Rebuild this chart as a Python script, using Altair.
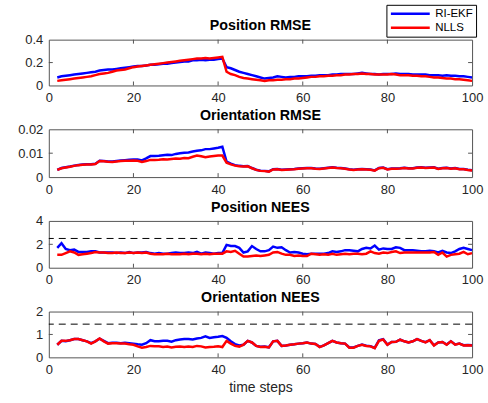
import altair as alt
import pandas as pd

steps = list(range(2, 101))

pos_rmse_ekf = [
    0.07, 0.08, 0.085, 0.09, 0.095, 0.10, 0.105, 0.11, 0.115, 0.12,
    0.13, 0.135, 0.14, 0.14, 0.145, 0.15, 0.155, 0.16, 0.165, 0.17,
    0.17, 0.175, 0.18, 0.18, 0.185, 0.19, 0.19, 0.195, 0.20, 0.205,
    0.21, 0.21, 0.22, 0.22, 0.225, 0.22, 0.225, 0.225, 0.23, 0.235,
    0.16, 0.15, 0.135, 0.12, 0.11, 0.10, 0.09, 0.08, 0.07, 0.06,
    0.065, 0.07, 0.08, 0.075, 0.07, 0.075, 0.075, 0.08, 0.08, 0.08,
    0.085, 0.085, 0.09, 0.09, 0.09, 0.095, 0.095, 0.10, 0.10, 0.10,
    0.10, 0.105, 0.11, 0.105, 0.10, 0.10, 0.095, 0.10, 0.10, 0.10,
    0.105, 0.10, 0.10, 0.10, 0.095, 0.095, 0.095, 0.095, 0.09, 0.09,
    0.09, 0.085, 0.09, 0.085, 0.085, 0.08, 0.08, 0.075, 0.07,
]
pos_rmse_nlls = [
    0.04, 0.045, 0.05, 0.055, 0.06, 0.065, 0.07, 0.075, 0.08, 0.09,
    0.10, 0.105, 0.11, 0.12, 0.13, 0.135, 0.14, 0.15, 0.16, 0.165,
    0.17, 0.175, 0.18, 0.185, 0.19, 0.195, 0.20, 0.205, 0.21, 0.215,
    0.22, 0.225, 0.23, 0.235, 0.235, 0.24, 0.235, 0.24, 0.245, 0.25,
    0.12, 0.10, 0.09, 0.075, 0.065, 0.06, 0.055, 0.05, 0.045, 0.04,
    0.045, 0.045, 0.05, 0.05, 0.055, 0.055, 0.06, 0.06, 0.065, 0.07,
    0.075, 0.075, 0.08, 0.08, 0.085, 0.085, 0.09, 0.09, 0.095, 0.095,
    0.10, 0.10, 0.105, 0.10, 0.10, 0.095, 0.095, 0.095, 0.095, 0.10,
    0.095, 0.09, 0.09, 0.09, 0.085, 0.085, 0.08, 0.08, 0.075, 0.07,
    0.07, 0.065, 0.06, 0.06, 0.055, 0.055, 0.05, 0.045, 0.04,
]

ori_rmse_ekf = [
    0.0030, 0.0038, 0.0041, 0.0044, 0.0048, 0.0051, 0.0053, 0.0054, 0.0054, 0.0056,
    0.0068, 0.0067, 0.0065, 0.0065, 0.0067, 0.0069, 0.0071, 0.0073, 0.0074, 0.0074,
    0.0070, 0.0078, 0.0088, 0.0088, 0.0089, 0.0091, 0.0093, 0.0092, 0.0097, 0.0100,
    0.0102, 0.0103, 0.0107, 0.0110, 0.0112, 0.0117, 0.0117, 0.0120, 0.0123, 0.0127,
    0.0065, 0.0056, 0.0050, 0.0047, 0.0045, 0.0046, 0.0038, 0.0031, 0.0027, 0.0026,
    0.0024, 0.0033, 0.0034, 0.0031, 0.0032, 0.0033, 0.0034, 0.0036, 0.0037, 0.0038,
    0.0038, 0.0036, 0.0035, 0.0037, 0.0039, 0.0041, 0.0039, 0.0038, 0.0036, 0.0033,
    0.0031, 0.0033, 0.0034, 0.0033, 0.0032, 0.0028, 0.0038, 0.0040, 0.0033, 0.0036,
    0.0036, 0.0037, 0.0039, 0.0037, 0.0037, 0.0040, 0.0041, 0.0039, 0.0040, 0.0041,
    0.0035, 0.0038, 0.0039, 0.0036, 0.0038, 0.0034, 0.0034, 0.0031, 0.0029,
]
ori_rmse_nlls = [
    0.0030, 0.0037, 0.0040, 0.0043, 0.0047, 0.0050, 0.0052, 0.0053, 0.0053, 0.0055,
    0.0067, 0.0066, 0.0064, 0.0063, 0.0065, 0.0067, 0.0068, 0.0068, 0.0069, 0.0068,
    0.0063, 0.0067, 0.0072, 0.0072, 0.0073, 0.0075, 0.0074, 0.0076, 0.0078, 0.0077,
    0.0080, 0.0079, 0.0085, 0.0090, 0.0087, 0.0083, 0.0086, 0.0088, 0.0090, 0.0090,
    0.0060, 0.0053, 0.0048, 0.0045, 0.0044, 0.0045, 0.0037, 0.0030, 0.0026, 0.0025,
    0.0023, 0.0032, 0.0033, 0.0030, 0.0031, 0.0032, 0.0033, 0.0035, 0.0036, 0.0037,
    0.0037, 0.0035, 0.0034, 0.0036, 0.0038, 0.0040, 0.0038, 0.0037, 0.0035, 0.0032,
    0.0030, 0.0032, 0.0033, 0.0032, 0.0031, 0.0027, 0.0037, 0.0039, 0.0032, 0.0035,
    0.0035, 0.0036, 0.0038, 0.0036, 0.0036, 0.0039, 0.0040, 0.0038, 0.0039, 0.0040,
    0.0034, 0.0037, 0.0038, 0.0035, 0.0037, 0.0033, 0.0033, 0.0030, 0.0028,
]

pos_nees_ekf = [
    1.7, 2.1, 1.6, 1.5, 1.55, 1.35, 1.35, 1.35, 1.4, 1.4,
    1.3, 1.3, 1.3, 1.3, 1.25, 1.3, 1.25, 1.35, 1.25, 1.3,
    1.3, 1.35, 1.25, 1.2, 1.25, 1.2, 1.2, 1.25, 1.3, 1.25,
    1.25, 1.3, 1.25, 1.35, 1.2, 1.3, 1.25, 1.2, 1.25, 1.25,
    1.95, 1.85, 1.85, 1.7, 1.3, 1.4, 1.85, 1.6, 1.4, 1.4,
    1.5, 1.8, 1.7, 1.75, 1.5, 1.3, 1.35, 1.3, 1.2, 1.15,
    1.2, 1.2, 1.2, 1.2, 1.25, 1.4, 1.35, 1.4, 1.5, 1.5,
    1.45, 1.4, 1.6, 1.7, 1.65, 1.9, 1.55, 1.65, 1.6, 1.6,
    1.75, 1.7, 1.5, 1.5, 1.5, 1.45, 1.4, 1.4, 1.45, 1.4,
    1.3, 1.45, 1.3, 1.25, 1.4, 1.6, 1.7, 1.6, 1.5,
]
pos_nees_nlls = [
    1.1, 1.1, 1.25, 1.4, 1.3, 1.1, 1.15, 1.2, 1.25, 1.35,
    1.3, 1.3, 1.25, 1.25, 1.3, 1.25, 1.25, 1.3, 1.25, 1.3,
    1.25, 1.3, 1.2, 1.15, 1.15, 1.15, 1.2, 1.15, 1.15, 1.15,
    1.2, 1.15, 1.2, 1.2, 1.15, 1.2, 1.15, 1.2, 1.2, 1.2,
    1.4, 1.35, 1.45, 1.2, 0.95, 0.95, 1.0, 1.05, 1.0, 1.05,
    1.1, 1.3, 1.35, 1.2, 1.1, 1.1, 1.0, 1.05, 1.0, 1.0,
    1.2, 1.15, 1.1, 1.15, 1.1, 1.2, 1.1, 1.15, 1.2, 1.15,
    1.2, 1.2, 1.15, 1.2, 1.4, 1.25, 1.2, 1.3, 1.25, 1.35,
    1.4, 1.25, 1.3, 1.3, 1.3, 1.3, 1.3, 1.3, 1.3, 1.35,
    1.1, 1.3, 0.95, 1.1, 1.15, 1.2, 1.35, 1.15, 1.25,
]

ori_nees_ekf = [
    0.55, 0.72, 0.70, 0.75, 0.8, 0.8, 0.75, 0.7, 0.62, 0.7,
    0.82, 0.72, 0.62, 0.64, 0.64, 0.62, 0.64, 0.62, 0.6, 0.57,
    0.55, 0.62, 0.75, 0.7, 0.7, 0.72, 0.72, 0.68, 0.75, 0.78,
    0.8, 0.8, 0.78, 0.82, 0.85, 0.92, 0.85, 0.88, 0.9, 0.93,
    0.85, 0.7, 0.58, 0.52, 0.55, 0.72, 0.65, 0.5, 0.46, 0.47,
    0.44, 0.7, 0.72, 0.5, 0.52, 0.55, 0.57, 0.6, 0.62, 0.65,
    0.6, 0.58, 0.46, 0.52, 0.62, 0.72, 0.65, 0.62, 0.6, 0.43,
    0.43, 0.5, 0.56, 0.51, 0.49, 0.41, 0.74, 0.79, 0.56, 0.67,
    0.68, 0.77, 0.7, 0.65, 0.7, 0.8, 0.72, 0.66, 0.75, 0.53,
    0.65, 0.67, 0.56, 0.7, 0.56, 0.6, 0.53, 0.54, 0.53,
]
ori_nees_nlls = [
    0.55, 0.72, 0.72, 0.75, 0.8, 0.8, 0.75, 0.7, 0.6, 0.7,
    0.82, 0.7, 0.6, 0.62, 0.62, 0.6, 0.6, 0.57, 0.55, 0.48,
    0.42, 0.45, 0.5, 0.48, 0.48, 0.45, 0.47, 0.43, 0.46, 0.47,
    0.45, 0.47, 0.45, 0.5, 0.48, 0.43, 0.45, 0.46, 0.48, 0.45,
    0.72, 0.6, 0.5, 0.47, 0.55, 0.72, 0.65, 0.5, 0.45, 0.46,
    0.43, 0.7, 0.72, 0.5, 0.52, 0.55, 0.57, 0.6, 0.62, 0.65,
    0.6, 0.58, 0.45, 0.52, 0.62, 0.72, 0.65, 0.62, 0.6, 0.42,
    0.42, 0.5, 0.55, 0.5, 0.48, 0.4, 0.72, 0.78, 0.55, 0.67,
    0.68, 0.77, 0.7, 0.65, 0.7, 0.8, 0.72, 0.65, 0.75, 0.52,
    0.65, 0.67, 0.55, 0.7, 0.55, 0.6, 0.52, 0.53, 0.52,
]

x_ticks = [0, 20, 40, 60, 80, 100]
series_names = ["RI-EKF", "NLLS"]
series_colors = ["#0000ff", "#ff0000"]

FONT = "Liberation Sans"
AXC = "#262626"
FRAME = "#555555"
W = 425
TICK = 4
YEXT = 32

LEGEND = alt.Legend(title=None, orient="none", legendX=339, legendY=-35,
                    symbolType="stroke", symbolStrokeWidth=2.5, symbolSize=1521,
                    clipHeight=12, labelFont=FONT, labelFontSize=11.5, labelColor="black",
                    strokeColor="black", fillColor="white", padding=3,
                    rowPadding=2, labelOffset=4, cornerRadius=0)


def frame_axis(orient):
    return alt.Axis(orient=orient, labels=False, ticks=False, grid=False, domain=True,
                    domainColor=FRAME, domainWidth=1, title=None,
                    minExtent=0, maxExtent=0)


def panel(title, ekf, nlls, ymax, yticks, height, dashed=None, xtitle=None):
    xscale = alt.Scale(domain=[0, 100], nice=False, zero=False)
    yscale = alt.Scale(domain=[0, ymax], nice=False, zero=True)
    xaxis = alt.Axis(values=x_ticks, ticks=False, tickSize=0, domain=True,
                     domainColor=FRAME, domainWidth=1, grid=False,
                     labelPadding=6, labelFontSize=13, labelFont=FONT, labelColor=AXC,
                     labelFlush=False,
                     title=xtitle, titleFont=FONT, titleFontSize=14, titleFontWeight="normal",
                     titleColor=AXC, titlePadding=4)
    yaxis = alt.Axis(values=yticks, ticks=False, tickSize=0, domain=True,
                     domainColor=FRAME, domainWidth=1, grid=False,
                     labelPadding=6, labelFontSize=13, labelFont=FONT, labelColor=AXC,
                     labelFlush=False,
                     format="~g", title=None, minExtent=YEXT, maxExtent=YEXT)
    cscale = alt.Scale(domain=series_names, range=series_colors)
    df_e = pd.DataFrame({"step": steps, "value": ekf, "series": series_names[0]})
    df_n = pd.DataFrame({"step": steps, "value": nlls, "series": series_names[1]})
    l_e = alt.Chart(df_e).mark_line(strokeWidth=2.5).encode(
        x=alt.X("step:Q", scale=xscale, axis=xaxis),
        y=alt.Y("value:Q", scale=yscale, axis=yaxis),
        color=alt.Color("series:N", scale=cscale, legend=LEGEND),
    )
    l_n = alt.Chart(df_n).mark_line(strokeWidth=2.5).encode(
        x=alt.X("step:Q", scale=xscale, axis=None),
        y=alt.Y("value:Q", scale=yscale, axis=None),
        color=alt.Color("series:N", scale=cscale, legend=LEGEND),
    )
    layers = [l_e, l_n]
    if dashed is not None:
        layers.append(alt.Chart(pd.DataFrame({"v": [dashed]})).mark_rule(
            color="black", strokeWidth=1, strokeDash=[7, 5]).encode(
            y=alt.Y("v:Q", scale=yscale, axis=None)))
    xt = pd.DataFrame({"t": x_ticks[1:-1]})
    yt = pd.DataFrame({"t": yticks[1:-1]})
    layers.append(alt.Chart(xt).mark_rule(color=FRAME, strokeWidth=1).encode(
        x=alt.X("t:Q", scale=xscale, axis=None), y=alt.value(height), y2=alt.value(height - TICK)))
    layers.append(alt.Chart(xt).mark_rule(color=FRAME, strokeWidth=1).encode(
        x=alt.X("t:Q", scale=xscale, axis=frame_axis("top")), y=alt.value(0), y2=alt.value(TICK)))
    layers.append(alt.Chart(yt).mark_rule(color=FRAME, strokeWidth=1).encode(
        y=alt.Y("t:Q", scale=yscale, axis=None), x=alt.value(0), x2=alt.value(TICK)))
    layers.append(alt.Chart(yt).mark_rule(color=FRAME, strokeWidth=1).encode(
        y=alt.Y("t:Q", scale=yscale, axis=frame_axis("right")), x=alt.value(W), x2=alt.value(W - TICK)))
    return alt.layer(*layers).resolve_axis(x="independent", y="independent").properties(
        width=W, height=height,
        title=alt.TitleParams(title, font=FONT, fontSize=14.3, fontWeight="bold",
                              color="black", offset=0, anchor="middle"),
    )


p1 = panel("Position RMSE", pos_rmse_ekf, pos_rmse_nlls, 0.4, [0, 0.2, 0.4], 46)
p2 = panel("Orientation RMSE", ori_rmse_ekf, ori_rmse_nlls, 0.02, [0, 0.01, 0.02], 48)
p3 = panel("Position NEES", pos_nees_ekf, pos_nees_nlls, 4, [0, 2, 4], 47, dashed=2.5)
p4 = panel("Orientation NEES", ori_nees_ekf, ori_nees_nlls, 2, [0, 1, 2], 46, dashed=1.45,
           xtitle="time steps")

chart = alt.vconcat(p1, p2, p3, p4, spacing=4).properties(
    padding={"left": 49 - YEXT, "top": 3, "right": 5, "bottom": 5}, background="white"
).configure_view(stroke=None)

chart.save("out.html", embed_options={"renderer": "svg", "actions": False})
